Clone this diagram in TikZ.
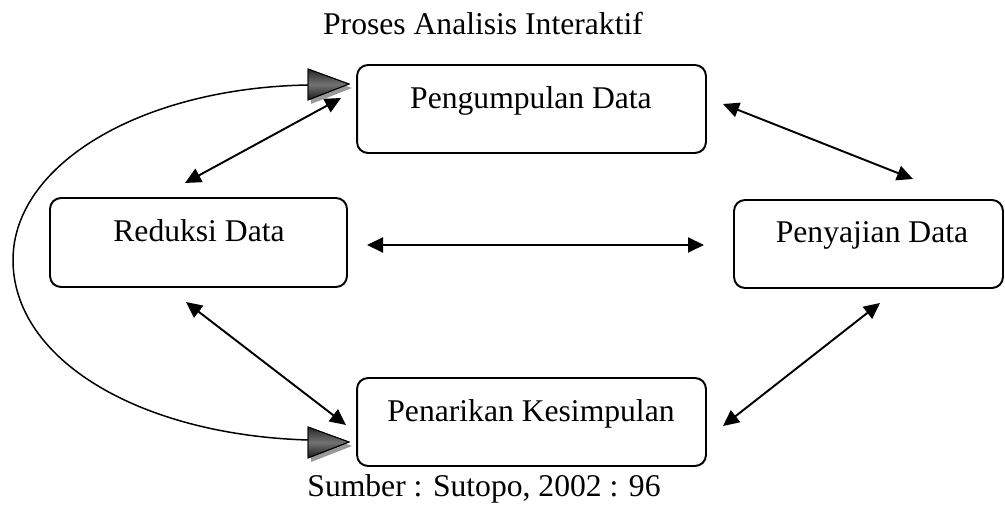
\documentclass[tikz,border=0pt]{standalone}
\usepackage{fontspec}
\setmainfont{Liberation Serif}
\usetikzlibrary{arrows.meta,shadings}
\begin{document}
\begin{tikzpicture}[x=0.02cm,y=-0.02cm,
  box/.style={draw=black,line width=1.1pt,rounded corners=0.22cm,inner sep=0pt},
  txt/.style={anchor=base,inner sep=0pt,font=\fontsize{18}{21}\selectfont},
  arr/.style={line width=1.1pt,{Triangle[length=0.32cm,width=0.3cm]}-{Triangle[length=0.32cm,width=0.3cm]}},
  bigtip/.style={draw=black,line width=0.5pt,top color=black!85,bottom color=black!90,middle color=black!55},
  tipshadow/.style={fill=black!40,draw=none}]
\useasboundingbox (0,0) rectangle (1005,506);
% boxes
\node[box,minimum width=6.98cm,minimum height=1.76cm] (peng) at (531.5,109) {};
\node[box,minimum width=5.94cm,minimum height=1.78cm] (red) at (198.5,242.5) {};
\node[box,minimum width=5.38cm,minimum height=1.76cm] (peny) at (868.5,244) {};
\node[box,minimum width=6.98cm,minimum height=1.76cm] (pen) at (531.5,422) {};
% texts
\node[txt] (title) at (483,35) {Proses Analisis Interaktif};
\node[txt] (pengt) at (531,109) {Pengumpulan Data};
\node[txt] (redt) at (199,242) {Reduksi Data};
\node[txt] (penyt) at (872,243) {Penyajian Data};
\node[txt] (pent) at (531,422) {Penarikan Kesimpulan};
\node[txt] (src) at (484,497) {Sumber : Sutopo, 2002 : 96};
% connector end points
\coordinate (a1) at (185,183); \coordinate (a2) at (341,98);
\coordinate (b1) at (367,245); \coordinate (b2) at (704,245);
\coordinate (c1) at (723,104); \coordinate (c2) at (913,179);
\coordinate (d1) at (186,302); \coordinate (d2) at (346,425);
\coordinate (e1) at (880,303); \coordinate (e2) at (723,426);
\draw[arr] (a1) -- (a2);
\draw[arr] (b1) -- (b2);
\draw[arr] (c1) -- (c2);
\draw[arr] (d1) -- (d2);
\draw[arr] (e1) -- (e2);
% big curved connector
\coordinate (ct) at (308,85);
\coordinate (cb) at (308,440);
\coordinate (tt) at (349,84);
\coordinate (tb) at (349,442);
\draw[line width=0.85pt] (ct) .. controls (140,88) and (13,165) .. (13,260)
   .. controls (13,360) and (140,435) .. (cb);
% big tips with shadow
\fill[tipshadow] ([shift={(3,4)}]tt) -- ++(-41,-15) -- ++(0,31) -- cycle;
\shade[bigtip] (tt) -- ++(-41,-15) -- ++(0,31) -- cycle;
\fill[tipshadow] ([shift={(3,4)}]tb) -- ++(-41,-15) -- ++(0,31) -- cycle;
\shade[bigtip] (tb) -- ++(-41,-15) -- ++(0,31) -- cycle;
\draw[line width=0.5pt] (tt) -- ++(-41,-15) -- ++(0,31) -- cycle;
\draw[line width=0.5pt] (tb) -- ++(-41,-15) -- ++(0,31) -- cycle;
\end{tikzpicture}
\end{document}
